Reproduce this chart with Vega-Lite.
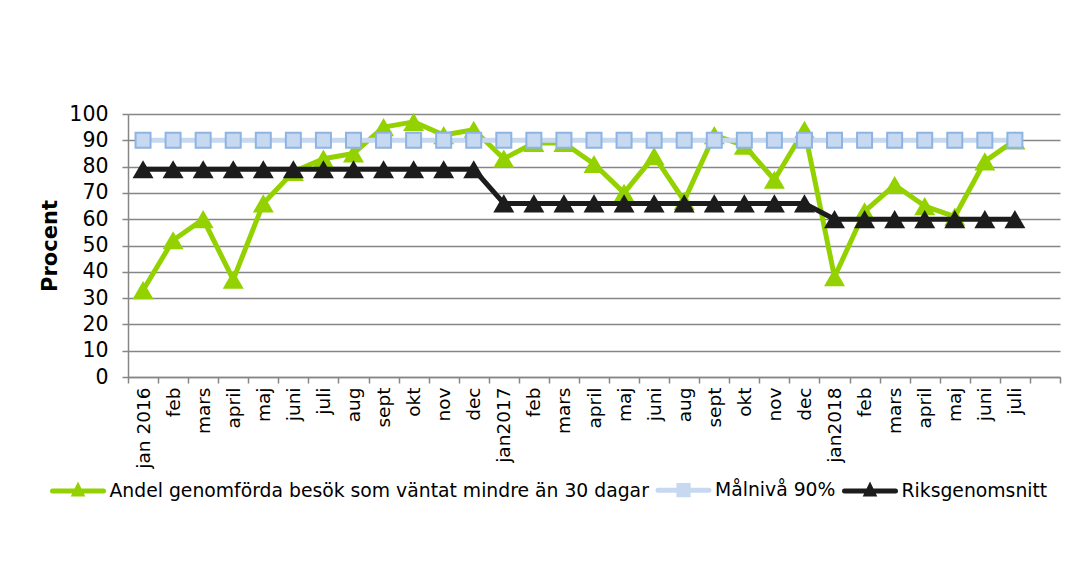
{
  "$schema": "https://vega.github.io/schema/vega-lite/v6.json",
  "autosize": {"type": "none"},
  "width": 932,
  "height": 263,
  "padding": {"left": 128, "top": 114, "right": 27, "bottom": 185},
  "background": "white",
  "config": {
    "font": "DejaVu Sans",
    "view": {"stroke": null},
    "axis": {"labelColor": "#000000", "titleColor": "#000000", "domainColor": "#868686", "tickColor": "#868686", "domainWidth": 1.5, "tickWidth": 1.5, "gridColor": "#868686", "gridWidth": 1.5, "gridOpacity": 1}
  },
  "data": {"values": [
    {"k": "jan 2016|1", "s": "andel", "v": 33}, {"k": "feb|2", "s": "andel", "v": 52}, {"k": "mars|3", "s": "andel", "v": 60}, {"k": "april|4", "s": "andel", "v": 37}, {"k": "maj|5", "s": "andel", "v": 66}, {"k": "juni|6", "s": "andel", "v": 78}, {"k": "juli|7", "s": "andel", "v": 83}, {"k": "aug|8", "s": "andel", "v": 85}, {"k": "sept|9", "s": "andel", "v": 95}, {"k": "okt|10", "s": "andel", "v": 97}, {"k": "nov|11", "s": "andel", "v": 92}, {"k": "dec|12", "s": "andel", "v": 94},
    {"k": "jan2017|13", "s": "andel", "v": 83}, {"k": "feb|14", "s": "andel", "v": 89}, {"k": "mars|15", "s": "andel", "v": 89}, {"k": "april|16", "s": "andel", "v": 81}, {"k": "maj|17", "s": "andel", "v": 70}, {"k": "juni|18", "s": "andel", "v": 84}, {"k": "aug|19", "s": "andel", "v": 67}, {"k": "sept|20", "s": "andel", "v": 92}, {"k": "okt|21", "s": "andel", "v": 88}, {"k": "nov|22", "s": "andel", "v": 75}, {"k": "dec|23", "s": "andel", "v": 94},
    {"k": "jan2018|24", "s": "andel", "v": 38}, {"k": "feb|25", "s": "andel", "v": 63}, {"k": "mars|26", "s": "andel", "v": 73}, {"k": "april|27", "s": "andel", "v": 65}, {"k": "maj|28", "s": "andel", "v": 61}, {"k": "juni|29", "s": "andel", "v": 82}, {"k": "juli|30", "s": "andel", "v": 90},
    {"k": "jan 2016|1", "s": "mal", "v": 90}, {"k": "feb|2", "s": "mal", "v": 90}, {"k": "mars|3", "s": "mal", "v": 90}, {"k": "april|4", "s": "mal", "v": 90}, {"k": "maj|5", "s": "mal", "v": 90}, {"k": "juni|6", "s": "mal", "v": 90}, {"k": "juli|7", "s": "mal", "v": 90}, {"k": "aug|8", "s": "mal", "v": 90}, {"k": "sept|9", "s": "mal", "v": 90}, {"k": "okt|10", "s": "mal", "v": 90}, {"k": "nov|11", "s": "mal", "v": 90}, {"k": "dec|12", "s": "mal", "v": 90},
    {"k": "jan2017|13", "s": "mal", "v": 90}, {"k": "feb|14", "s": "mal", "v": 90}, {"k": "mars|15", "s": "mal", "v": 90}, {"k": "april|16", "s": "mal", "v": 90}, {"k": "maj|17", "s": "mal", "v": 90}, {"k": "juni|18", "s": "mal", "v": 90}, {"k": "aug|19", "s": "mal", "v": 90}, {"k": "sept|20", "s": "mal", "v": 90}, {"k": "okt|21", "s": "mal", "v": 90}, {"k": "nov|22", "s": "mal", "v": 90}, {"k": "dec|23", "s": "mal", "v": 90},
    {"k": "jan2018|24", "s": "mal", "v": 90}, {"k": "feb|25", "s": "mal", "v": 90}, {"k": "mars|26", "s": "mal", "v": 90}, {"k": "april|27", "s": "mal", "v": 90}, {"k": "maj|28", "s": "mal", "v": 90}, {"k": "juni|29", "s": "mal", "v": 90}, {"k": "juli|30", "s": "mal", "v": 90},
    {"k": "jan 2016|1", "s": "riks", "v": 79}, {"k": "feb|2", "s": "riks", "v": 79}, {"k": "mars|3", "s": "riks", "v": 79}, {"k": "april|4", "s": "riks", "v": 79}, {"k": "maj|5", "s": "riks", "v": 79}, {"k": "juni|6", "s": "riks", "v": 79}, {"k": "juli|7", "s": "riks", "v": 79}, {"k": "aug|8", "s": "riks", "v": 79}, {"k": "sept|9", "s": "riks", "v": 79}, {"k": "okt|10", "s": "riks", "v": 79}, {"k": "nov|11", "s": "riks", "v": 79}, {"k": "dec|12", "s": "riks", "v": 79},
    {"k": "jan2017|13", "s": "riks", "v": 66}, {"k": "feb|14", "s": "riks", "v": 66}, {"k": "mars|15", "s": "riks", "v": 66}, {"k": "april|16", "s": "riks", "v": 66}, {"k": "maj|17", "s": "riks", "v": 66}, {"k": "juni|18", "s": "riks", "v": 66}, {"k": "aug|19", "s": "riks", "v": 66}, {"k": "sept|20", "s": "riks", "v": 66}, {"k": "okt|21", "s": "riks", "v": 66}, {"k": "nov|22", "s": "riks", "v": 66}, {"k": "dec|23", "s": "riks", "v": 66},
    {"k": "jan2018|24", "s": "riks", "v": 60}, {"k": "feb|25", "s": "riks", "v": 60}, {"k": "mars|26", "s": "riks", "v": 60}, {"k": "april|27", "s": "riks", "v": 60}, {"k": "maj|28", "s": "riks", "v": 60}, {"k": "juni|29", "s": "riks", "v": 60}, {"k": "juli|30", "s": "riks", "v": 60}
  ]},
  "encoding": {
    "x": {
      "field": "k", "type": "ordinal", "sort": null,
      "scale": {"type": "band", "paddingInner": 0, "paddingOuter": 0, "domain": ["jan 2016|1", "feb|2", "mars|3", "april|4", "maj|5", "juni|6", "juli|7", "aug|8", "sept|9", "okt|10", "nov|11", "dec|12", "jan2017|13", "feb|14", "mars|15", "april|16", "maj|17", "juni|18", "aug|19", "sept|20", "okt|21", "nov|22", "dec|23", "jan2018|24", "feb|25", "mars|26", "april|27", "maj|28", "juni|29", "juli|30", "|31"]},
      "axis": {"title": null, "labelExpr": "isString(datum.value) ? split(datum.value, '|')[0] : ''", "labelAngle": -90, "labelFontSize": 18.5, "labelPadding": 4, "tickSize": 6, "tickBand": "extent", "grid": false, "labelOverlap": false}
    },
    "y": {
      "field": "v", "type": "quantitative",
      "scale": {"domain": [0, 100], "nice": false},
      "axis": {"title": "Procent", "titleFontSize": 21, "titleFontWeight": "bold", "titlePadding": 8, "labelFontSize": 20.5, "labelPadding": 14, "tickSize": 6, "values": [0, 10, 20, 30, 40, 50, 60, 70, 80, 90, 100], "grid": true}
    }
  },
  "layer": [
    {
      "transform": [{"filter": "datum.s === 'andel'"}],
      "mark": {"type": "line", "strokeWidth": 5, "strokeJoin": "round"},
      "encoding": {"color": {"field": "s", "type": "nominal",
        "scale": {"domain": ["andel", "mal", "riks"], "range": ["#93d200", "#c6d9f1", "#1c1c1c"]},
        "legend": {"title": null, "orient": "none", "legendX": -78, "legendY": 348, "direction": "horizontal",
          "labelExpr": "datum.value === 'andel' ? 'Andel genomförda besök som väntat mindre än 30 dagar' : datum.value === 'mal' ? 'Målnivå 90%' : 'Riksgenomsnitt'",
          "symbolSize": 2601, "symbolStrokeWidth": 5, "labelFontSize": 18.8, "labelColor": "#000000", "labelOffset": 3.5, "columnPadding": -1.5, "labelLimit": 0,
          "encode": {"symbols": {"update": {
            "shape": {"signal": "datum.value === 'mal' ? 'M-1,0H1M-0.18,-0.18H0.18V0.18H-0.18Z' : 'M-1,0H1M-0.13,0.12L0,-0.15L0.13,0.12Z'"},
            "fill": {"signal": "datum.value === 'andel' ? '#93d200' : datum.value === 'mal' ? '#c6d9f1' : '#1c1c1c'"},
            "strokeCap": {"value": "round"}, "fillOpacity": {"value": 1}, "strokeOpacity": {"value": 1}}}}}}}
    },
    {
      "transform": [{"filter": "datum.s === 'andel'"}],
      "mark": {"type": "point", "shape": "triangle-up", "filled": true, "size": 441, "color": "#93d200", "opacity": 1}
    },
    {
      "transform": [{"filter": "datum.s === 'mal'"}],
      "mark": {"type": "line", "strokeWidth": 5, "strokeJoin": "round"},
      "encoding": {"color": {"field": "s", "type": "nominal",
        "scale": {"domain": ["andel", "mal", "riks"], "range": ["#93d200", "#c6d9f1", "#1c1c1c"]}}}
    },
    {
      "transform": [{"filter": "datum.s === 'mal'"}],
      "mark": {"type": "point", "shape": "square", "filled": false, "size": 225, "fill": "#c6d9f1", "fillOpacity": 1, "stroke": "#8db4e2", "strokeWidth": 2, "opacity": 1}
    },
    {
      "transform": [{"filter": "datum.s === 'riks'"}],
      "mark": {"type": "line", "strokeWidth": 5, "strokeJoin": "round"},
      "encoding": {"color": {"field": "s", "type": "nominal",
        "scale": {"domain": ["andel", "mal", "riks"], "range": ["#93d200", "#c6d9f1", "#1c1c1c"]}}}
    },
    {
      "transform": [{"filter": "datum.s === 'riks'"}],
      "mark": {"type": "point", "shape": "triangle-up", "filled": true, "size": 441, "color": "#1c1c1c", "opacity": 1}
    }
  ]
}
